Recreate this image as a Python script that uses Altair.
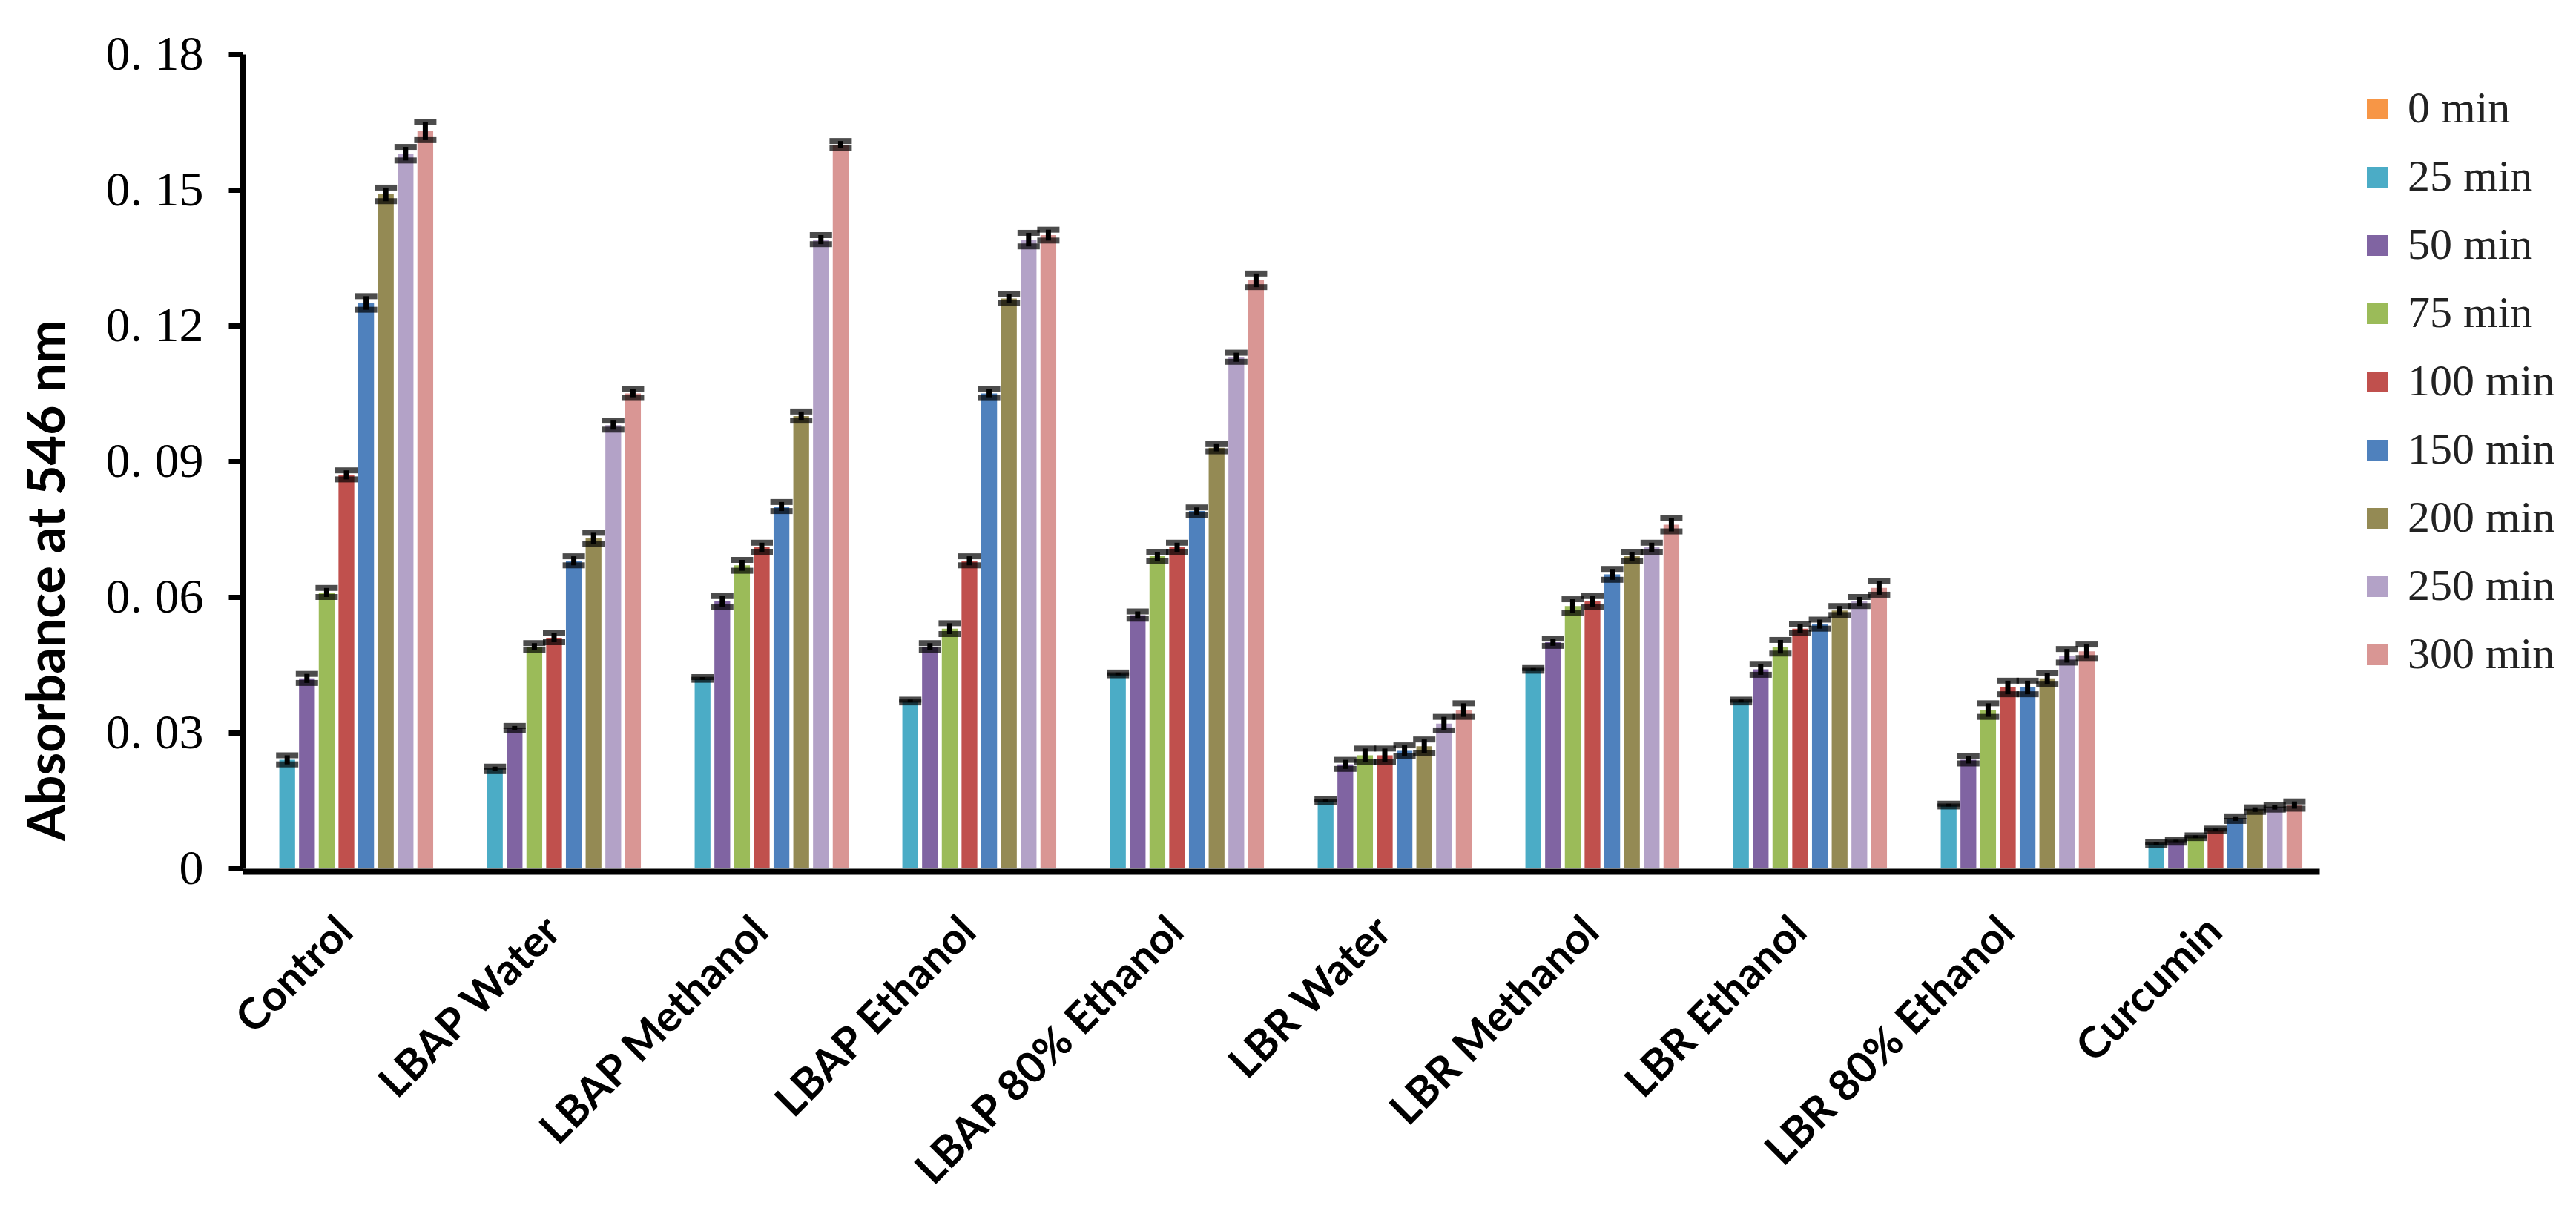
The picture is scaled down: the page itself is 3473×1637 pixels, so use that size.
import altair as alt
import pandas as pd

groups = ["Control", "LBAP Water", "LBAP Methanol", "LBAP Ethanol", "LBAP 80% Ethanol",
          "LBR Water", "LBR Methanol", "LBR Ethanol", "LBR 80% Ethanol", "Curcumin"]
times = ["0 min", "25 min", "50 min", "75 min", "100 min", "150 min", "200 min", "250 min", "300 min"]
colors = ["#F79646", "#4BACC6", "#8064A2", "#9BBB59", "#C0504D", "#4F81BD", "#948A54", "#B3A2C7", "#D99694"]

# values for 0 min, 25 ... 300 min
control      = [0, 0.024, 0.042, 0.061, 0.087, 0.125, 0.149, 0.158, 0.163]
lbap_water   = [0, 0.022, 0.031, 0.049, 0.051, 0.068, 0.073, 0.098, 0.105]
lbap_meth    = [0, 0.042, 0.059, 0.067, 0.071, 0.080, 0.100, 0.139, 0.160]
lbap_eth     = [0, 0.037, 0.049, 0.053, 0.068, 0.105, 0.126, 0.139, 0.140]
lbap_80eth   = [0, 0.043, 0.056, 0.069, 0.071, 0.079, 0.093, 0.113, 0.130]
lbr_water    = [0, 0.015, 0.023, 0.025, 0.025, 0.026, 0.027, 0.032, 0.035]
lbr_meth     = [0, 0.044, 0.050, 0.058, 0.059, 0.065, 0.069, 0.071, 0.076]
lbr_eth      = [0, 0.037, 0.044, 0.049, 0.053, 0.054, 0.057, 0.059, 0.062]
lbr_80eth    = [0, 0.014, 0.024, 0.035, 0.040, 0.040, 0.042, 0.047, 0.048]
curcumin     = [0, 0.0055, 0.006, 0.007, 0.0085, 0.011, 0.013, 0.0135, 0.014]

control_err    = [0, 0.001, 0.001, 0.001, 0.001, 0.0015, 0.0015, 0.0015, 0.002]
lbap_water_err = [0, 0.0005, 0.0005, 0.0008, 0.001, 0.001, 0.0012, 0.001, 0.001]
lbap_meth_err  = [0, 0.0003, 0.0012, 0.0012, 0.001, 0.001, 0.001, 0.001, 0.0008]
lbap_eth_err   = [0, 0.0003, 0.0008, 0.0012, 0.001, 0.001, 0.001, 0.0015, 0.0012]
lbap_80eth_err = [0, 0.0003, 0.0008, 0.001, 0.001, 0.0008, 0.0008, 0.001, 0.0015]
lbr_water_err  = [0, 0.0003, 0.001, 0.0015, 0.0015, 0.0012, 0.0015, 0.0015, 0.0015]
lbr_meth_err   = [0, 0.0003, 0.0008, 0.0015, 0.0012, 0.0012, 0.001, 0.001, 0.0015]
lbr_eth_err    = [0, 0.0003, 0.0012, 0.0015, 0.001, 0.001, 0.001, 0.001, 0.0015]
lbr_80eth_err  = [0, 0.0003, 0.0008, 0.0015, 0.0015, 0.0015, 0.0012, 0.0015, 0.0015]
curcumin_err   = [0, 0.0003, 0.0003, 0.0003, 0.0003, 0.0005, 0.0005, 0.0005, 0.0008]

y_ticks = [0, 0.03, 0.06, 0.09, 0.12, 0.15, 0.18]

values = [control, lbap_water, lbap_meth, lbap_eth, lbap_80eth,
          lbr_water, lbr_meth, lbr_eth, lbr_80eth, curcumin]
errors = [control_err, lbap_water_err, lbap_meth_err, lbap_eth_err, lbap_80eth_err,
          lbr_water_err, lbr_meth_err, lbr_eth_err, lbr_80eth_err, curcumin_err]

rows = []
for g, vals, errs in zip(groups, values, errors):
    for t, v, e in zip(times, vals, errs):
        rows.append({"group": g, "time": t, "value": v, "lo": v - e, "hi": v + e})
df = pd.DataFrame(rows)

x_enc = alt.X("group:N", sort=groups,
              scale=alt.Scale(paddingInner=0.145, paddingOuter=0.0725),
              axis=alt.Axis(title=None, labelAngle=-45, labelAlign="right", labelBaseline="middle",
                            labelFont="Lato", labelFontWeight="bold", labelFontSize=58,
                            labelColor="black", ticks=False, tickSize=0, labelPadding=72,
                            domainColor="black", domainWidth=8, offset=4, labelLimit=800))
xo_enc = alt.XOffset("time:N", sort=times, scale=alt.Scale(paddingInner=0.2, paddingOuter=0.1))

y_scale = alt.Scale(domain=[0, 0.18], nice=False, zero=True)

bars = alt.Chart(df).mark_bar().encode(
    x=x_enc,
    xOffset=xo_enc,
    y=alt.Y("value:Q", scale=y_scale,
            axis=alt.Axis(title="Absorbance at 546 nm", values=y_ticks, grid=False,
                          labelExpr="datum.value == 0 ? '0' : replace(format(datum.value, '.2f'), '.', '. ')",
                          labelFont="Liberation Serif", labelFontSize=66, labelColor="black",
                          labelPadding=34, tickSize=19, tickWidth=7, tickColor="black",
                          domainColor="black", domainWidth=8,
                          titleFont="Lato", titleFontWeight="bold", titleFontSize=70,
                          titleColor="black", titleX=-262, titleY=709, titleAngle=-90,
                          titleAlign="center", titleBaseline="middle")),
    color=alt.Color("time:N", sort=times,
                    scale=alt.Scale(domain=times, range=colors),
                    legend=alt.Legend(title=None, orient="none", legendX=2848, legendY=44,
                                      direction="vertical", symbolType="square", symbolSize=784,
                                      symbolStrokeWidth=0, labelFont="Liberation Serif",
                                      labelFontSize=60, labelColor="#222222", labelOffset=11,
                                      rowPadding=32, padding=0, labelLimit=600)),
)

err_df = df[df["time"] != "0 min"]

stems = alt.Chart(err_df).mark_rule(color="black", strokeWidth=7).encode(
    x=alt.X("group:N", sort=groups), xOffset=alt.XOffset("time:N", sort=times),
    y=alt.Y("lo:Q", scale=y_scale), y2="hi:Q")

caps_hi = alt.Chart(err_df).mark_tick(color="black", thickness=8, size=30).encode(
    x=alt.X("group:N", sort=groups), xOffset=alt.XOffset("time:N", sort=times),
    y=alt.Y("hi:Q", scale=y_scale))
caps_lo = alt.Chart(err_df).mark_tick(color="black", thickness=8, size=30).encode(
    x=alt.X("group:N", sort=groups), xOffset=alt.XOffset("time:N", sort=times),
    y=alt.Y("lo:Q", scale=y_scale))

chart = alt.layer(bars, stems, caps_hi, caps_lo).properties(
    width=2800, height=1098,
    autosize=alt.AutoSizeParams(type="none"),
    padding={"left": 319, "top": 65, "right": 330, "bottom": 450},
    background="white",
).configure_view(stroke=None)

chart.save("out.html", embed_options={"renderer": "svg", "actions": False})
